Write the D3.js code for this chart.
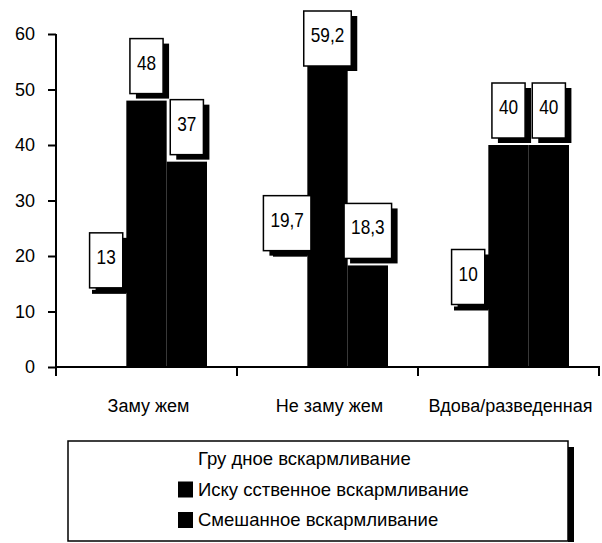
<!DOCTYPE html>
<html>
<head>
<meta charset="utf-8">
<script src="https://cdn.jsdelivr.net/npm/d3@7"></script>
<style>
  body { margin: 0; background: #fff; }
  svg { display: block; }
</style>
</head>
<body>
<svg id="chart" width="602" height="543"></svg>
<script>
const categories = ["Заму жем", "Не заму жем", "Вдова/разведенная"];
const seriesNames = ["Гру дное вскармливание", "Иску сственное вскармливание", "Смешанное вскармливание"];
const breastValues = [13, 19.7, 10];
const artificialValues = [48, 59.2, 40];
const mixedValues = [37, 18.3, 40];
const yTicks = [0, 10, 20, 30, 40, 50, 60];

const seriesValues = [breastValues, artificialValues, mixedValues];
const seriesColors = ["#fff", "#000", "#000"];

const svg = d3.select("#chart");
const font = "'Liberation Sans', Arial, sans-serif";

const y = d3.scaleLinear().domain([0, 60]).range([367, 34]);
const x0 = d3.scaleBand().domain(categories).range([56, 599]);
const x1 = d3.scaleBand().domain(d3.range(seriesNames.length)).range([30, x0.bandwidth() - 30]);
const bw = x1.bandwidth();

// flat list of bars
const bars = [];
categories.forEach((c, i) => {
  seriesValues.forEach((vals, s) => {
    bars.push({ cat: c, s: s, v: vals[i] });
  });
});

// bars
const barG = svg.append("g");
bars.forEach(d => {
  const bx = x0(d.cat) + x1(d.s);
  barG.append("rect")
    .attr("x", bx)
    .attr("y", y(d.v))
    .attr("width", bw)
    .attr("height", y(0) - y(d.v))
    .attr("fill", seriesColors[d.s]);
  if (d.s === 0) {
    // top edge of the white series
    barG.append("rect")
      .attr("x", bx + 6)
      .attr("y", y(d.v) - 5)
      .attr("width", bw - 6)
      .attr("height", 4)
      .attr("fill", "#000");
  }
});

// y axis
const yAxis = svg.append("g")
  .attr("transform", "translate(56,0)")
  .call(d3.axisLeft(y).tickValues(yTicks).tickSize(8).tickSizeOuter(0).tickPadding(13));
yAxis.select(".domain").attr("stroke-width", 2).attr("d", "M0,34V376");
yAxis.selectAll(".tick line").attr("stroke-width", 2);
yAxis.selectAll(".tick text")
  .attr("font-family", font)
  .attr("font-size", 18)
  .attr("fill", "#000");

// x axis
svg.append("line")
  .attr("x1", 56).attr("x2", 600)
  .attr("y1", y(0)).attr("y2", y(0))
  .attr("stroke", "#000").attr("stroke-width", 2);
const bounds = categories.map(c => x0(c)).concat([x0.range()[1]]);
svg.selectAll(".xtick").data(bounds).enter().append("line")
  .attr("x1", d => d).attr("x2", d => d)
  .attr("y1", y(0)).attr("y2", y(0) + 9)
  .attr("stroke", "#000").attr("stroke-width", 2);
svg.selectAll(".xlabel").data(categories).enter().append("text")
  .attr("x", d => x0(d) + x0.bandwidth() / 2 + 2)
  .attr("y", 412)
  .attr("text-anchor", "middle")
  .attr("font-family", font)
  .attr("font-size", 18)
  .text(d => d);

// value label boxes (narrow digits)
const fmt = v => String(v).replace(".", ",");
const squeeze = 0.82;
const labG = svg.append("g");
bars.forEach(d => {
  const cx = x0(d.cat) + x1(d.s) + bw / 2;
  const txt = labG.append("text")
    .attr("font-family", font)
    .attr("font-size", 21)
    .attr("text-anchor", "middle")
    .text(fmt(d.v));
  const tw = txt.node().getComputedTextLength() * squeeze;
  const boxW = Math.max(32, tw + 14);
  const boxH = 55;
  const top = Math.max(11, y(d.v) - 7 - boxH);
  labG.insert("rect", "text")
    .attr("x", cx - boxW / 2 + 6).attr("y", top + 5)
    .attr("width", boxW).attr("height", boxH)
    .attr("fill", "#000");
  labG.insert("rect", "text")
    .attr("x", cx - boxW / 2).attr("y", top)
    .attr("width", boxW).attr("height", boxH)
    .attr("fill", "#fff").attr("stroke", "#000").attr("stroke-width", 1.5);
  txt.attr("transform", `translate(${cx},${top + 31}) scale(${squeeze},1)`);
  labG.node().appendChild(txt.node());
});

// legend
const lg = svg.append("g");
lg.append("rect")
  .attr("x", 568).attr("y", 447).attr("width", 6).attr("height", 95)
  .attr("fill", "#000");
lg.append("rect")
  .attr("x", 68).attr("y", 441).attr("width", 500).attr("height", 100)
  .attr("fill", "#fff").attr("stroke", "#000").attr("stroke-width", 1.5);
seriesNames.forEach((name, i) => {
  const ly = 459 + i * 30.5;
  if (seriesColors[i] !== "#fff") {
    lg.append("rect")
      .attr("x", 178).attr("y", ly - 8).attr("width", 15).attr("height", 16)
      .attr("fill", seriesColors[i]);
  }
  lg.append("text")
    .attr("x", 198).attr("y", ly + 6)
    .attr("font-family", font)
    .attr("font-size", 18.5)
    .text(name);
});
</script>
</body>
</html>
